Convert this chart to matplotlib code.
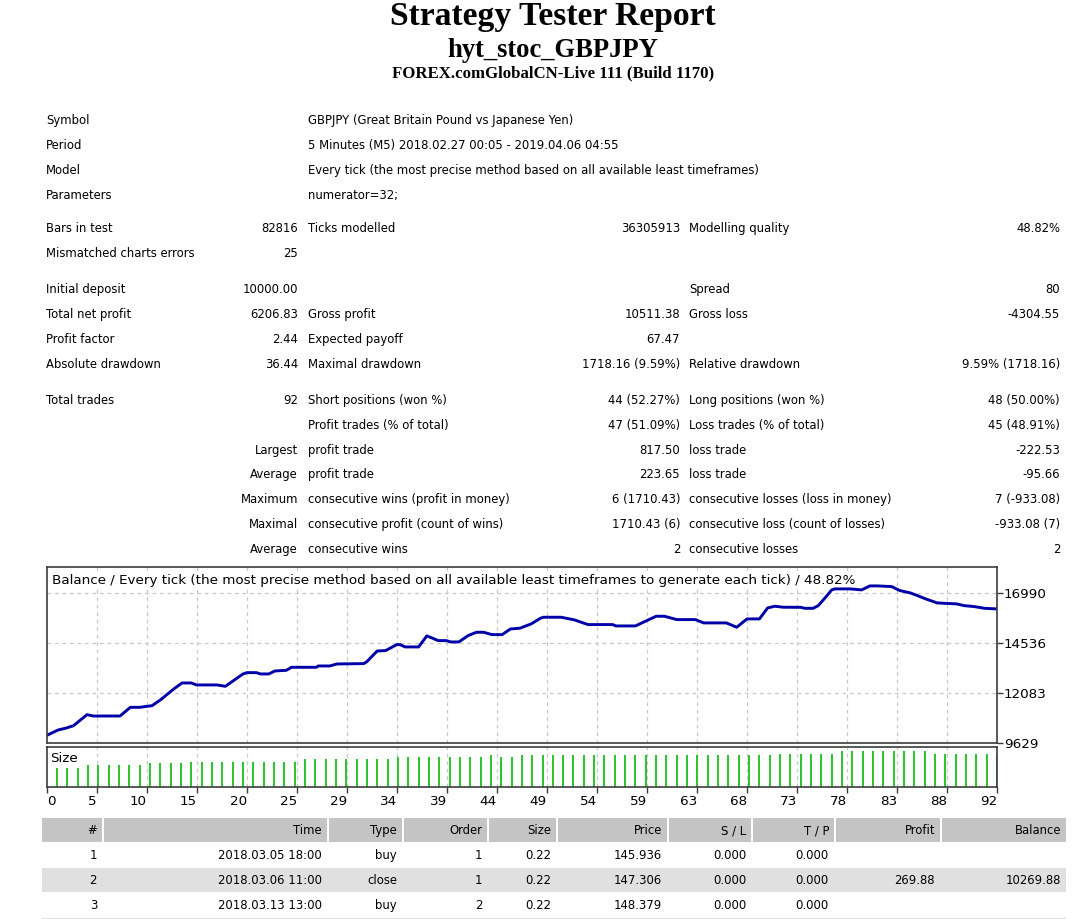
import matplotlib
matplotlib.use("Agg")
from matplotlib import pyplot as plt
from matplotlib.patches import Rectangle

W, H = 1080, 919

# report header
title = "Strategy Tester Report"
ea_name = "hyt_stoc_GBPJPY"
server = "FOREX.comGlobalCN-Live 111 (Build 1170)"

# settings block: (label, text)
settings = [
    ("Symbol", "GBPJPY (Great Britain Pound vs Japanese Yen)"),
    ("Period", "5 Minutes (M5) 2018.02.27 00:05 - 2019.04.06 04:55"),
    ("Model", "Every tick (the most precise method based on all available least timeframes)"),
    ("Parameters", "numerator=32;"),
]

# results block: six columns per row (label, value, label, value, label, value)
results = [
    ["Bars in test", "82816", "Ticks modelled", "36305913", "Modelling quality", "48.82%"],
    ["Mismatched charts errors", "25", "", "", "", ""],
    ["Initial deposit", "10000.00", "", "", "Spread", "80"],
    ["Total net profit", "6206.83", "Gross profit", "10511.38", "Gross loss", "-4304.55"],
    ["Profit factor", "2.44", "Expected payoff", "67.47", "", ""],
    ["Absolute drawdown", "36.44", "Maximal drawdown", "1718.16 (9.59%)", "Relative drawdown", "9.59% (1718.16)"],
    ["Total trades", "92", "Short positions (won %)", "44 (52.27%)", "Long positions (won %)", "48 (50.00%)"],
    ["", "", "Profit trades (% of total)", "47 (51.09%)", "Loss trades (% of total)", "45 (48.91%)"],
    ["", "Largest", "profit trade", "817.50", "loss trade", "-222.53"],
    ["", "Average", "profit trade", "223.65", "loss trade", "-95.66"],
    ["", "Maximum", "consecutive wins (profit in money)", "6 (1710.43)", "consecutive losses (loss in money)", "7 (-933.08)"],
    ["", "Maximal", "consecutive profit (count of wins)", "1710.43 (6)", "consecutive loss (count of losses)", "-933.08 (7)"],
    ["", "Average", "consecutive wins", "2", "consecutive losses", "2"],
]
settings_y = [120, 145, 170, 195]
results_y = [228, 253, 289, 314, 339, 364, 400, 425, 450, 474, 499, 524, 549]

# balance curve (trade number, balance)
trade_pos = [0, 1.1, 1.9, 2.6, 3.9, 4.5, 7.1, 8.1, 9.0, 10.2, 11.0, 12.3, 13.1, 14.0,
             14.5, 16.5, 17.3, 17.9, 19.0, 19.4, 20.3, 20.7, 21.5, 22.1, 23.2, 23.7,
             26.1, 26.3, 27.4, 28.1, 30.7, 31.0, 32.0, 32.8, 33.9, 34.2, 34.7, 36.0,
             36.8, 37.3, 37.9, 38.7, 39.1, 39.9, 40.8, 41.6, 42.3, 43.1, 44.1, 44.9,
             45.8, 46.9, 47.8, 48.1, 49.8, 51.1, 52.4, 54.8, 55.1, 57.0, 58.1, 59.0,
             59.8, 61.0, 62.8, 63.6, 65.8, 66.8, 67.8, 69.0, 69.8, 70.5, 71.3, 73.0,
             73.4, 74.2, 74.7, 75.4, 76.0, 76.3, 77.8, 78.9, 79.7, 80.4, 81.8, 82.6,
             83.6, 84.3, 85.1, 86.2, 88.1, 88.8, 89.8, 90.8, 91.9, 92.0]
balance = [10000, 10266, 10364, 10479, 11019, 10953, 10953, 11379, 11379, 11460, 11738,
           12278, 12573, 12573, 12475, 12475, 12409, 12622, 13015, 13080, 13080, 13015,
           13015, 13162, 13194, 13342, 13342, 13407, 13407, 13505, 13522, 13620, 14143,
           14160, 14454, 14454, 14340, 14340, 14880, 14781, 14650, 14650, 14585, 14585,
           14896, 15059, 15059, 14945, 14945, 15223, 15256, 15469, 15747, 15796, 15796,
           15665, 15436, 15436, 15370, 15370, 15632, 15845, 15845, 15681, 15681, 15518,
           15518, 15305, 15714, 15714, 16254, 16336, 16287, 16283, 16234, 16234, 16367,
           16774, 17137, 17186, 17186, 17137, 17333, 17333, 17300, 17103, 16990, 16858,
           16695, 16499, 16450, 16367, 16318, 16234, 16205, 16207]

# lot size per closed trade
sizes = ([0.22] * 3 + [0.25] * 6 + [0.28] * 4 + [0.29] * 11 + [0.32] * 9 + [0.34] * 9
         + [0.37] + [0.34] * 2 + [0.37] * 25 + [0.38] * 6 + [0.41] * 9 + [0.38] * 7)
size_trades = list(range(1, len(sizes) + 1))

y_ticks = [9629, 12083, 14536, 16990]
x_tick_labels = ["0", "5", "10", "15", "20", "25", "29", "34", "39", "44", "49",
                 "54", "59", "63", "68", "73", "78", "83", "88", "92"]
n_trades = 92

# trades table
table_header = ["#", "Time", "Type", "Order", "Size", "Price", "S / L", "T / P", "Profit", "Balance"]
table_rows = [
    ["1", "2018.03.05 18:00", "buy", "1", "0.22", "145.936", "0.000", "0.000", "", ""],
    ["2", "2018.03.06 11:00", "close", "1", "0.22", "147.306", "0.000", "0.000", "269.88", "10269.88"],
    ["3", "2018.03.13 13:00", "buy", "2", "0.22", "148.379", "0.000", "0.000", "", ""],
    ["", "", "", "", "", "", "", "", "", ""],
]
cells = [(42, 102), (104, 327), (329, 402), (404, 487), (489, 556), (558, 667),
         (669, 751), (753, 834), (836, 940), (942, 1066)]

font = "DejaVu Sans"
fig = plt.figure(figsize=(W / 100, H / 100), dpi=100)

# full-figure canvas in pixel coordinates
bg = fig.add_axes([0, 0, 1, 1])
bg.set_xlim(0, W)
bg.set_ylim(H, 0)
bg.axis("off")

bg.text(553, 25, title, ha="center", va="baseline", family="Liberation Serif",
        weight="bold", fontsize=24.2)
bg.text(553, 57, ea_name, ha="center", va="baseline", family="Liberation Serif",
        weight="bold", fontsize=19.2)
bg.text(553, 77, server, ha="center", va="baseline", family="Liberation Serif",
        weight="bold", fontsize=12.1)

fs = 8.4
base = 4  # row centre to text baseline, px
for (lab, txt), y in zip(settings, settings_y):
    bg.text(46, y + base, lab, ha="left", va="baseline", family=font, fontsize=fs)
    bg.text(308, y + base, txt, ha="left", va="baseline", family=font, fontsize=fs)

col_x = [(46, "left"), (298, "right"), (308, "left"), (680, "right"), (689, "left"), (1060, "right")]
for row, y in zip(results, results_y):
    for txt, (x, ha) in zip(row, col_x):
        if txt:
            bg.text(x, y + base, txt, ha=ha, va="baseline", family=font, fontsize=fs)

# table
row_top = [818, 843, 868, 893, 918]
row_h = 24
for i, y0 in enumerate(row_top):
    if i == 0:
        for (a, b) in cells:
            bg.add_patch(Rectangle((a, y0), b - a, row_h, color="#c4c4c4", lw=0))
    elif i % 2 == 0:
        bg.add_patch(Rectangle((cells[0][0], y0), cells[-1][1] - cells[0][0], row_h,
                               color="#e0e0e0", lw=0))

for i, row in enumerate([table_header] + table_rows):
    y = row_top[i] + row_h / 2
    for txt, (a, b) in zip(row, cells):
        if txt:
            bg.text(b - 5, y + base, txt, ha="right", va="baseline", family=font, fontsize=fs)

# chart panels
left, right = 46.7, 997
main_top, main_bot = 567, 743
size_top, size_bot = 747, 787
ax = fig.add_axes([left / W, 1 - main_bot / H, (right - left) / W, (main_bot - main_top) / H])
ax2 = fig.add_axes([left / W, 1 - size_bot / H, (right - left) / W, (size_bot - size_top) / H])

grid_x = [k * n_trades / (len(x_tick_labels) - 1) for k in range(len(x_tick_labels))]
frame = "#3c3c3c"
for a in (ax, ax2):
    a.set_xlim(0, n_trades)
    for s in a.spines.values():
        s.set_color(frame)
        s.set_linewidth(1.2)
    for gx in grid_x[1:-1]:
        a.axvline(gx, color="#c8c8c8", lw=0.9, ls=(0, (3, 3)), zorder=0)

ax.plot(trade_pos, balance, color="#0000a8", lw=2.1, zorder=2)
ax.set_ylim(y_ticks[0], 18260)
for gy in y_ticks[1:]:
    ax.axhline(gy, color="#c8c8c8", lw=0.9, ls=(0, (3, 3)), zorder=0)
ax.yaxis.tick_right()
ax.set_yticks(y_ticks)
ax.set_yticklabels([str(v) for v in y_ticks], family=font, fontsize=9.7)
ax.tick_params(axis="y", length=4, width=1, color=frame, pad=1)
ax.set_xticks([])
ax.text(0.006, 0.925, "Balance / Every tick (the most precise method based on all available least "
        "timeframes to generate each tick) / 48.82%", transform=ax.transAxes, ha="left",
        va="center", family=font, fontsize=9.7, zorder=3,
        bbox=dict(facecolor="white", edgecolor="none", pad=0.5))

ax2.vlines(size_trades, 0, sizes, color="#19c019", lw=1.3)
ax2.set_ylim(0, 0.46)
ax2.set_yticks([])
ax2.set_xticks(grid_x)
ax2.set_xticklabels(x_tick_labels, family=font, fontsize=9.7)
for k, lbl in enumerate(ax2.get_xticklabels()):
    lbl.set_horizontalalignment("left" if k == 0 else "right")
ax2.tick_params(axis="x", length=4, width=1, color=frame, pad=2)
ax2.text(0.004, 0.72, "Size", transform=ax2.transAxes, ha="left", va="center",
         family=font, fontsize=9.7)

plt.savefig("out.png", dpi=100)
